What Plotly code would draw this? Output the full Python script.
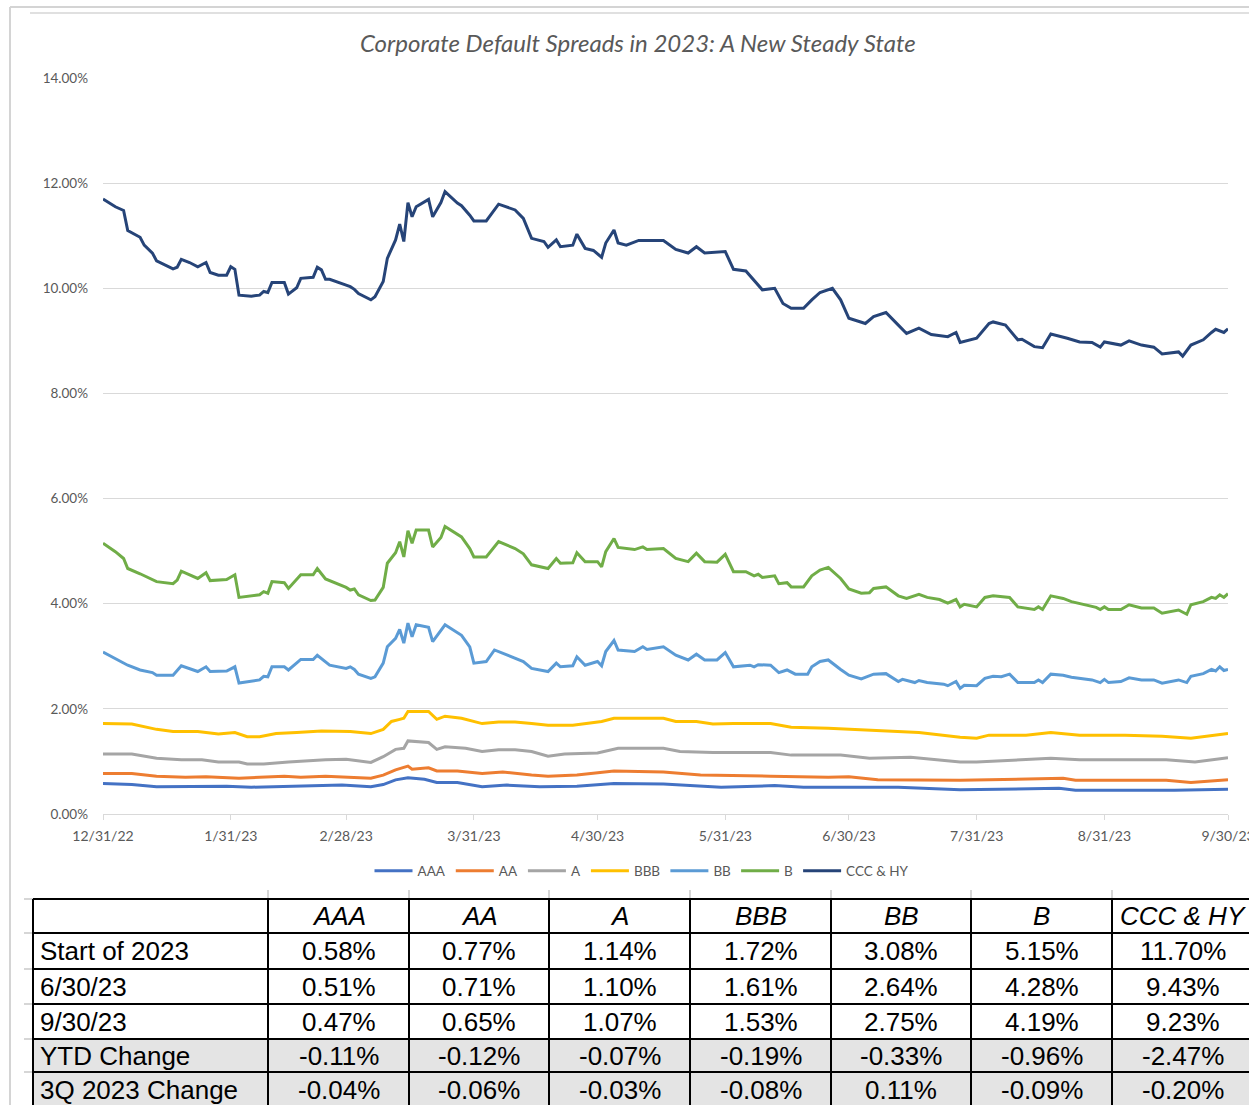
import plotly.graph_objects as go

# ---- spread series (percent) ----
AAA_DATES = ["2022-12-31", "2023-01-07", "2023-01-13", "2023-01-20", "2023-01-30", "2023-02-05", "2023-02-15",
             "2023-02-27", "2023-03-06", "2023-03-09", "2023-03-12", "2023-03-15", "2023-03-19", "2023-03-22",
             "2023-03-27", "2023-04-02", "2023-04-08", "2023-04-16", "2023-04-25", "2023-05-04", "2023-05-16",
             "2023-05-30", "2023-06-12", "2023-06-19", "2023-06-30", "2023-07-12", "2023-07-27", "2023-08-20",
             "2023-08-24", "2023-09-17", "2023-09-30"]
AAA_VALUES = [0.58, 0.56, 0.52, 0.52, 0.53, 0.51, 0.53, 0.55, 0.52, 0.56, 0.65, 0.69, 0.66, 0.60, 0.60, 0.52,
              0.55, 0.52, 0.53, 0.58, 0.57, 0.51, 0.54, 0.51, 0.51, 0.51, 0.46, 0.49, 0.45, 0.45, 0.47]

AA_DATES = ["2022-12-31", "2023-01-07", "2023-01-13", "2023-01-20", "2023-01-25", "2023-02-02", "2023-02-07",
            "2023-02-13", "2023-02-17", "2023-02-23", "2023-03-06", "2023-03-09", "2023-03-12", "2023-03-15",
            "2023-03-16", "2023-03-20", "2023-03-22", "2023-03-27", "2023-04-02", "2023-04-07", "2023-04-14",
            "2023-04-18", "2023-04-25", "2023-05-04", "2023-05-16", "2023-05-25", "2023-06-11", "2023-06-25",
            "2023-06-30", "2023-07-07", "2023-07-27", "2023-08-08", "2023-08-21", "2023-08-24", "2023-09-15",
            "2023-09-21", "2023-09-30"]
AA_VALUES = [0.77, 0.77, 0.72, 0.70, 0.71, 0.68, 0.70, 0.72, 0.70, 0.72, 0.68, 0.74, 0.84, 0.91, 0.85, 0.88,
             0.82, 0.82, 0.77, 0.80, 0.74, 0.72, 0.74, 0.82, 0.80, 0.74, 0.72, 0.70, 0.71, 0.65, 0.64, 0.66,
             0.68, 0.64, 0.64, 0.60, 0.65]

A_DATES = ["2022-12-31", "2023-01-07", "2023-01-13", "2023-01-19", "2023-01-24", "2023-01-28", "2023-02-02",
           "2023-02-04", "2023-02-08", "2023-02-14", "2023-02-23", "2023-02-28", "2023-03-06", "2023-03-09",
           "2023-03-12", "2023-03-14", "2023-03-15", "2023-03-20", "2023-03-22", "2023-03-24", "2023-03-29",
           "2023-04-02", "2023-04-06", "2023-04-10", "2023-04-14", "2023-04-18", "2023-04-22", "2023-04-30",
           "2023-05-05", "2023-05-16", "2023-05-20", "2023-05-28", "2023-06-11", "2023-06-16", "2023-06-28",
           "2023-06-30", "2023-07-05", "2023-07-15", "2023-07-27", "2023-07-31", "2023-08-09", "2023-08-18",
           "2023-08-25", "2023-09-05", "2023-09-15", "2023-09-22", "2023-09-30"]
A_VALUES = [1.14, 1.14, 1.06, 1.03, 1.03, 0.99, 0.99, 0.95, 0.95, 0.99, 1.03, 1.04, 0.98, 1.09, 1.23, 1.25,
            1.39, 1.36, 1.23, 1.28, 1.25, 1.19, 1.22, 1.22, 1.19, 1.10, 1.14, 1.16, 1.25, 1.25, 1.19, 1.17,
            1.17, 1.12, 1.12, 1.10, 1.06, 1.08, 0.99, 0.99, 1.03, 1.06, 1.03, 1.03, 1.03, 0.99, 1.07]

BBB_DATES = ["2022-12-31", "2023-01-07", "2023-01-13", "2023-01-17", "2023-01-23", "2023-01-28", "2023-02-01",
             "2023-02-04", "2023-02-07", "2023-02-11", "2023-02-16", "2023-02-22", "2023-03-01", "2023-03-06",
             "2023-03-09", "2023-03-11", "2023-03-13", "2023-03-14", "2023-03-15", "2023-03-20", "2023-03-22",
             "2023-03-24", "2023-03-28", "2023-04-02", "2023-04-06", "2023-04-10", "2023-04-14", "2023-04-18",
             "2023-04-24", "2023-05-01", "2023-05-04", "2023-05-16", "2023-05-19", "2023-05-24", "2023-05-28",
             "2023-06-02", "2023-06-11", "2023-06-16", "2023-06-25", "2023-06-30", "2023-07-09", "2023-07-17",
             "2023-07-27", "2023-07-31", "2023-08-03", "2023-08-12", "2023-08-18", "2023-08-25", "2023-09-05",
             "2023-09-14", "2023-09-21", "2023-09-30"]
BBB_VALUES = [1.72, 1.71, 1.61, 1.57, 1.57, 1.52, 1.55, 1.47, 1.47, 1.53, 1.55, 1.58, 1.57, 1.53, 1.61, 1.76,
              1.80, 1.82, 1.95, 1.95, 1.80, 1.86, 1.82, 1.72, 1.75, 1.75, 1.72, 1.69, 1.69, 1.76, 1.82, 1.82,
              1.76, 1.76, 1.71, 1.72, 1.72, 1.65, 1.63, 1.61, 1.57, 1.55, 1.46, 1.44, 1.50, 1.50, 1.55, 1.50,
              1.50, 1.48, 1.44, 1.53]

BB_DATES = ["2022-12-31", "2023-01-03", "2023-01-06", "2023-01-09", "2023-01-12", "2023-01-13", "2023-01-17",
            "2023-01-19", "2023-01-23", "2023-01-25", "2023-01-26", "2023-01-30", "2023-02-01", "2023-02-02",
            "2023-02-07", "2023-02-08", "2023-02-09", "2023-02-10", "2023-02-13", "2023-02-14", "2023-02-17",
            "2023-02-20", "2023-02-21", "2023-02-24", "2023-02-28", "2023-03-01", "2023-03-02", "2023-03-03",
            "2023-03-06", "2023-03-07", "2023-03-09", "2023-03-10", "2023-03-12", "2023-03-13", "2023-03-14",
            "2023-03-15", "2023-03-16", "2023-03-17", "2023-03-20", "2023-03-21", "2023-03-24", "2023-03-28",
            "2023-03-30", "2023-03-31", "2023-04-03", "2023-04-05", "2023-04-09", "2023-04-12", "2023-04-14",
            "2023-04-18", "2023-04-20", "2023-04-21", "2023-04-24", "2023-04-25", "2023-04-27", "2023-04-30",
            "2023-05-01", "2023-05-02", "2023-05-04", "2023-05-05", "2023-05-09", "2023-05-11", "2023-05-12",
            "2023-05-16", "2023-05-19", "2023-05-22", "2023-05-24", "2023-05-26", "2023-05-29", "2023-05-31",
            "2023-06-02", "2023-06-06", "2023-06-07", "2023-06-08", "2023-06-11", "2023-06-13", "2023-06-15",
            "2023-06-17", "2023-06-20", "2023-06-21", "2023-06-23", "2023-06-25", "2023-06-28", "2023-06-30",
            "2023-07-03", "2023-07-06", "2023-07-09", "2023-07-12", "2023-07-13", "2023-07-16", "2023-07-17",
            "2023-07-19", "2023-07-23", "2023-07-24", "2023-07-26", "2023-07-27", "2023-07-28", "2023-07-31",
            "2023-08-02", "2023-08-04", "2023-08-06", "2023-08-08", "2023-08-10", "2023-08-14", "2023-08-15",
            "2023-08-16", "2023-08-18", "2023-08-21", "2023-08-23", "2023-08-28", "2023-08-30", "2023-08-31",
            "2023-09-01", "2023-09-04", "2023-09-06", "2023-09-09", "2023-09-12", "2023-09-14", "2023-09-18",
            "2023-09-20", "2023-09-21", "2023-09-24", "2023-09-26", "2023-09-27", "2023-09-28", "2023-09-29",
            "2023-09-30"]
BB_VALUES = [3.08, 2.96, 2.83, 2.74, 2.69, 2.64, 2.64, 2.82, 2.71, 2.80, 2.71, 2.72, 2.80, 2.49, 2.55, 2.62,
             2.61, 2.80, 2.80, 2.74, 2.94, 2.94, 3.02, 2.83, 2.77, 2.80, 2.75, 2.66, 2.58, 2.61, 2.87, 3.18,
             3.34, 3.51, 3.25, 3.63, 3.37, 3.60, 3.55, 3.28, 3.60, 3.40, 3.18, 2.87, 2.90, 3.12, 2.99, 2.90,
             2.77, 2.71, 2.87, 2.80, 2.82, 2.99, 2.83, 2.90, 2.82, 3.09, 3.30, 3.12, 3.09, 3.18, 3.13, 3.18,
             3.02, 2.93, 3.04, 2.93, 2.93, 3.07, 2.80, 2.83, 2.80, 2.84, 2.83, 2.69, 2.74, 2.66, 2.66, 2.80,
             2.90, 2.93, 2.75, 2.64, 2.57, 2.66, 2.67, 2.52, 2.56, 2.50, 2.54, 2.50, 2.47, 2.44, 2.52, 2.39,
             2.45, 2.44, 2.58, 2.62, 2.61, 2.66, 2.50, 2.50, 2.55, 2.50, 2.66, 2.64, 2.60, 2.55, 2.50, 2.56,
             2.50, 2.52, 2.59, 2.55, 2.55, 2.49, 2.55, 2.50, 2.62, 2.67, 2.75, 2.72, 2.80, 2.73, 2.75]

B_DATES = ["2022-12-31", "2023-01-03", "2023-01-05", "2023-01-06", "2023-01-09", "2023-01-13", "2023-01-17",
           "2023-01-18", "2023-01-19", "2023-01-23", "2023-01-25", "2023-01-26", "2023-01-30", "2023-02-01",
           "2023-02-02", "2023-02-07", "2023-02-08", "2023-02-09", "2023-02-10", "2023-02-13", "2023-02-14",
           "2023-02-17", "2023-02-20", "2023-02-21", "2023-02-23", "2023-02-28", "2023-03-01", "2023-03-02",
           "2023-03-03", "2023-03-06", "2023-03-07", "2023-03-09", "2023-03-10", "2023-03-12", "2023-03-13",
           "2023-03-14", "2023-03-15", "2023-03-16", "2023-03-17", "2023-03-20", "2023-03-21", "2023-03-23",
           "2023-03-24", "2023-03-27", "2023-03-28", "2023-03-30", "2023-03-31", "2023-04-03", "2023-04-06",
           "2023-04-10", "2023-04-12", "2023-04-14", "2023-04-18", "2023-04-20", "2023-04-21", "2023-04-24",
           "2023-04-25", "2023-04-27", "2023-04-30", "2023-05-01", "2023-05-02", "2023-05-04", "2023-05-05",
           "2023-05-09", "2023-05-11", "2023-05-12", "2023-05-16", "2023-05-19", "2023-05-22", "2023-05-24",
           "2023-05-26", "2023-05-29", "2023-05-31", "2023-06-02", "2023-06-05", "2023-06-07", "2023-06-08",
           "2023-06-09", "2023-06-12", "2023-06-13", "2023-06-15", "2023-06-16", "2023-06-19", "2023-06-21",
           "2023-06-23", "2023-06-25", "2023-06-28", "2023-06-30", "2023-07-03", "2023-07-05", "2023-07-06",
           "2023-07-09", "2023-07-12", "2023-07-14", "2023-07-17", "2023-07-19", "2023-07-22", "2023-07-24",
           "2023-07-26", "2023-07-27", "2023-07-28", "2023-07-31", "2023-08-02", "2023-08-04", "2023-08-08",
           "2023-08-10", "2023-08-14", "2023-08-15", "2023-08-16", "2023-08-18", "2023-08-21", "2023-08-23",
           "2023-08-29", "2023-08-30", "2023-08-31", "2023-09-01", "2023-09-04", "2023-09-06", "2023-09-09",
           "2023-09-12", "2023-09-14", "2023-09-18", "2023-09-20", "2023-09-21", "2023-09-24", "2023-09-26",
           "2023-09-27", "2023-09-28", "2023-09-29", "2023-09-30"]
B_VALUES = [5.15, 4.99, 4.86, 4.67, 4.57, 4.42, 4.38, 4.45, 4.62, 4.48, 4.59, 4.44, 4.46, 4.55, 4.12, 4.17,
            4.23, 4.20, 4.42, 4.40, 4.29, 4.55, 4.55, 4.67, 4.47, 4.31, 4.26, 4.28, 4.17, 4.06, 4.07, 4.31,
            4.77, 4.97, 5.18, 4.89, 5.39, 5.15, 5.40, 5.40, 5.08, 5.26, 5.47, 5.31, 5.27, 5.05, 4.89, 4.89,
            5.18, 5.05, 4.95, 4.74, 4.67, 4.86, 4.77, 4.78, 4.97, 4.80, 4.80, 4.70, 4.99, 5.24, 5.07, 5.03,
            5.08, 5.03, 5.05, 4.86, 4.80, 4.96, 4.80, 4.79, 4.94, 4.61, 4.61, 4.53, 4.56, 4.50, 4.53, 4.38,
            4.40, 4.32, 4.32, 4.53, 4.64, 4.69, 4.48, 4.28, 4.20, 4.21, 4.29, 4.32, 4.15, 4.10, 4.18, 4.12,
            4.08, 4.01, 4.08, 3.94, 3.99, 3.94, 4.12, 4.15, 4.12, 3.94, 3.89, 3.94, 3.89, 4.15, 4.10, 4.04,
            3.93, 3.89, 3.94, 3.89, 3.89, 3.98, 3.92, 3.92, 3.82, 3.88, 3.80, 3.98, 4.04, 4.12, 4.10, 4.17,
            4.12, 4.19]

CCC_DATES = ["2022-12-31", "2023-01-03", "2023-01-05", "2023-01-06", "2023-01-09", "2023-01-10", "2023-01-12",
             "2023-01-13", "2023-01-17", "2023-01-18", "2023-01-19", "2023-01-21", "2023-01-23", "2023-01-25",
             "2023-01-26", "2023-01-28", "2023-01-30", "2023-01-31", "2023-02-01", "2023-02-02", "2023-02-05",
             "2023-02-07", "2023-02-08", "2023-02-09", "2023-02-10", "2023-02-13", "2023-02-14", "2023-02-16",
             "2023-02-17", "2023-02-20", "2023-02-21", "2023-02-22", "2023-02-23", "2023-02-24", "2023-02-28",
             "2023-03-01", "2023-03-02", "2023-03-03", "2023-03-06", "2023-03-07", "2023-03-09", "2023-03-10",
             "2023-03-12", "2023-03-13", "2023-03-14", "2023-03-15", "2023-03-16", "2023-03-17", "2023-03-20",
             "2023-03-21", "2023-03-23", "2023-03-24", "2023-03-27", "2023-03-28", "2023-03-30", "2023-03-31",
             "2023-04-03", "2023-04-06", "2023-04-10", "2023-04-12", "2023-04-14", "2023-04-17", "2023-04-18",
             "2023-04-20", "2023-04-21", "2023-04-24", "2023-04-25", "2023-04-27", "2023-04-29", "2023-05-01",
             "2023-05-02", "2023-05-04", "2023-05-05", "2023-05-07", "2023-05-10", "2023-05-16", "2023-05-19",
             "2023-05-22", "2023-05-24", "2023-05-26", "2023-05-31", "2023-06-02", "2023-06-05", "2023-06-07",
             "2023-06-09", "2023-06-12", "2023-06-14", "2023-06-16", "2023-06-19", "2023-06-21", "2023-06-23",
             "2023-06-26", "2023-06-28", "2023-06-30", "2023-07-04", "2023-07-06", "2023-07-09", "2023-07-12",
             "2023-07-14", "2023-07-17", "2023-07-20", "2023-07-24", "2023-07-26", "2023-07-27", "2023-07-31",
             "2023-08-03", "2023-08-04", "2023-08-07", "2023-08-10", "2023-08-11", "2023-08-14", "2023-08-16",
             "2023-08-18", "2023-08-22", "2023-08-25", "2023-08-28", "2023-08-30", "2023-08-31", "2023-09-04",
             "2023-09-06", "2023-09-09", "2023-09-12", "2023-09-14", "2023-09-18", "2023-09-19", "2023-09-21",
             "2023-09-24", "2023-09-26", "2023-09-27", "2023-09-29", "2023-09-30"]
CCC_VALUES = [11.70, 11.55, 11.48, 11.10, 10.97, 10.82, 10.67, 10.52, 10.37, 10.40, 10.55, 10.49, 10.41, 10.49,
              10.30, 10.25, 10.25, 10.41, 10.36, 9.87, 9.85, 9.87, 9.94, 9.92, 10.11, 10.11, 9.89, 10.01,
              10.19, 10.21, 10.40, 10.35, 10.17, 10.17, 10.06, 10.03, 9.98, 9.90, 9.78, 9.84, 10.13, 10.57,
              10.92, 11.22, 10.89, 11.63, 11.36, 11.55, 11.69, 11.36, 11.63, 11.84, 11.62, 11.57, 11.39, 11.28,
              11.28, 11.60, 11.49, 11.33, 10.95, 10.89, 10.78, 10.92, 10.79, 10.82, 11.03, 10.76, 10.72, 10.59,
              10.86, 11.11, 10.86, 10.82, 10.91, 10.91, 10.74, 10.67, 10.79, 10.67, 10.70, 10.36, 10.33, 10.16,
              9.97, 10.00, 9.71, 9.62, 9.62, 9.78, 9.92, 10.00, 9.78, 9.43, 9.33, 9.46, 9.54, 9.30, 9.14, 9.24,
              9.12, 9.08, 9.16, 8.97, 9.05, 9.33, 9.36, 9.30, 9.02, 9.03, 8.89, 8.87, 9.13, 9.05, 8.98, 8.97,
              8.88, 8.98, 8.92, 9.00, 8.92, 8.88, 8.75, 8.79, 8.71, 8.92, 9.02, 9.16, 9.22, 9.16, 9.23]

SERIES = [
    ("AAA", AAA_DATES, AAA_VALUES, "#4472C4"),
    ("AA", AA_DATES, AA_VALUES, "#ED7D31"),
    ("A", A_DATES, A_VALUES, "#A5A5A5"),
    ("BBB", BBB_DATES, BBB_VALUES, "#FFC000"),
    ("BB", BB_DATES, BB_VALUES, "#5B9BD5"),
    ("B", B_DATES, B_VALUES, "#70AD47"),
    ("CCC & HY", CCC_DATES, CCC_VALUES, "#264478"),
]

# ---- axis ticks ----
X_TICK_DATES = ["2022-12-31", "2023-01-31", "2023-02-28", "2023-03-31", "2023-04-30",
                "2023-05-31", "2023-06-30", "2023-07-31", "2023-08-31", "2023-09-30"]
X_TICK_LABELS = ["12/31/22", "1/31/23", "2/28/23", "3/31/23", "4/30/23",
                 "5/31/23", "6/30/23", "7/31/23", "8/31/23", "9/30/23"]
Y_TICKS = [0, 2, 4, 6, 8, 10, 12, 14]

# ---- summary table ----
TABLE_COLUMNS = ["AAA", "AA", "A", "BBB", "BB", "B", "CCC & HY"]
ROW_LABELS = ["Start of 2023", "6/30/23", "9/30/23", "YTD Change", "3Q 2023 Change"]
START_2023 = [0.58, 0.77, 1.14, 1.72, 3.08, 5.15, 11.70]
AT_6_30 = [0.51, 0.71, 1.10, 1.61, 2.64, 4.28, 9.43]
AT_9_30 = [0.47, 0.65, 1.07, 1.53, 2.75, 4.19, 9.23]
YTD_CHANGE = [-0.11, -0.12, -0.07, -0.19, -0.33, -0.96, -2.47]
Q3_CHANGE = [-0.04, -0.06, -0.03, -0.08, 0.11, -0.09, -0.20]

W, H = 1249, 1105
PLOT_L, PLOT_R, PLOT_T, PLOT_B = 103, 1228, 78, 814
TXT = "#595959"
GRID = "#d9d9d9"
CHART_FONT = "Lato, 'Open Sans', sans-serif"
TABLE_FONT = "'Liberation Sans', Arial, sans-serif"

# table grid in page pixels
COL_EDGES = [33, 268, 409, 549, 690, 831, 971, 1112, 1253]
ROW_EDGES = [899, 933, 969, 1004, 1039, 1072, 1108]
SHADED_ROWS = {3, 4}


def px(x):
    return x / W


def py(y):
    return (H - y) / H


fig = go.Figure()
for name, dates, vals, color in SERIES:
    fig.add_trace(go.Scatter(x=dates, y=vals, name=name, mode="lines",
                             line=dict(color=color, width=3)))

# outer frame lines
frame = dict(color="#d4d4d4", width=2)
fig.add_shape(type="line", xref="paper", yref="paper", x0=px(10), x1=px(10), y0=0, y1=py(7), line=frame)
fig.add_shape(type="line", xref="paper", yref="paper", x0=px(10), x1=1, y0=py(7), y1=py(7), line=frame)
fig.add_shape(type="line", xref="paper", yref="paper", x0=px(30), x1=1, y0=py(13), y1=py(13),
              line=dict(color="#e0e0e0", width=2))

fig.add_annotation(text="<i>Corporate Default Spreads in 2023: A New Steady State</i>",
                   xref="paper", yref="paper", x=px(638), y=py(43),
                   xanchor="center", yanchor="middle", showarrow=False,
                   font=dict(family=CHART_FONT, size=24, color=TXT))

# ---- summary table drawn as a grid of cells ----
rows = [START_2023, AT_6_30, AT_9_30, YTD_CHANGE, Q3_CHANGE]
cell_text = [[""] + [f"<i>{c}</i>" for c in TABLE_COLUMNS]]
for label, r in zip(ROW_LABELS, rows):
    cell_text.append([label] + [f"{v:.2f}%" for v in r])

# shaded change rows
for i in SHADED_ROWS:
    fig.add_shape(type="rect", xref="paper", yref="paper", layer="below",
                  x0=px(COL_EDGES[0]), x1=1.0, y0=py(ROW_EDGES[i + 2]), y1=py(ROW_EDGES[i + 1]),
                  fillcolor="#e4e4e4", line=dict(width=0))

# faint guide ticks outside the grid
guide = dict(color="#c8c8c8", width=1.5)
for y in ROW_EDGES[:-1]:
    fig.add_shape(type="line", xref="paper", yref="paper", x0=px(24), x1=px(COL_EDGES[0]),
                  y0=py(y), y1=py(y), line=guide)
for x in COL_EDGES[1:-1]:
    fig.add_shape(type="line", xref="paper", yref="paper", x0=px(x), x1=px(x),
                  y0=py(890), y1=py(ROW_EDGES[0]), line=guide)

# grid borders
border = dict(color="black", width=2)
for y in ROW_EDGES[:-1]:
    fig.add_shape(type="line", xref="paper", yref="paper", x0=px(COL_EDGES[0]), x1=1.0,
                  y0=py(y), y1=py(y), line=border)
for x in COL_EDGES[:-1]:
    fig.add_shape(type="line", xref="paper", yref="paper", x0=px(x), x1=px(x),
                  y0=0, y1=py(ROW_EDGES[0]), line=border)

# cell texts
for i, row in enumerate(cell_text):
    yc = (ROW_EDGES[i] + ROW_EDGES[i + 1]) / 2
    for j, txt in enumerate(row):
        if not txt:
            continue
        if j == 0:
            x, anchor = COL_EDGES[0] + 5, "left"
        else:
            x, anchor = (COL_EDGES[j] + COL_EDGES[j + 1]) / 2, "center"
        fig.add_annotation(text=txt, xref="paper", yref="paper", x=px(x), y=py(yc),
                           xanchor=anchor, yanchor="middle", showarrow=False,
                           font=dict(family=TABLE_FONT, size=26, color="black"))

fig.update_layout(
    width=W, height=H,
    margin=dict(l=0, r=0, t=0, b=0, autoexpand=False),
    paper_bgcolor="white", plot_bgcolor="white",
    showlegend=True,
    legend=dict(orientation="h", x=px(642), xanchor="center", y=py(871), yanchor="middle",
                font=dict(family=CHART_FONT, size=13.5, color=TXT), itemwidth=38,
                bgcolor="rgba(0,0,0,0)"),
    xaxis=dict(domain=[px(PLOT_L), px(PLOT_R)], type="date",
               range=["2022-12-31", "2023-09-30"], automargin=False,
               tickvals=X_TICK_DATES, ticktext=X_TICK_LABELS, ticklabeloverflow="allow",
               showgrid=False, showline=True, linecolor=GRID, linewidth=1,
               ticks="outside", ticklen=5, tickcolor=GRID, ticklabelstandoff=4,
               tickfont=dict(family=CHART_FONT, size=14, color=TXT), zeroline=False),
    yaxis=dict(domain=[py(PLOT_B), py(PLOT_T)], range=[0, 14], automargin=False,
               tickvals=Y_TICKS, ticktext=[f"{v:.2f}%" for v in Y_TICKS],
               showgrid=True, gridcolor=GRID, gridwidth=1, zeroline=False,
               showline=False, ticks="", ticklabelstandoff=14,
               tickfont=dict(family=CHART_FONT, size=13.5, color=TXT)),
)

fig.write_html("out.html")
